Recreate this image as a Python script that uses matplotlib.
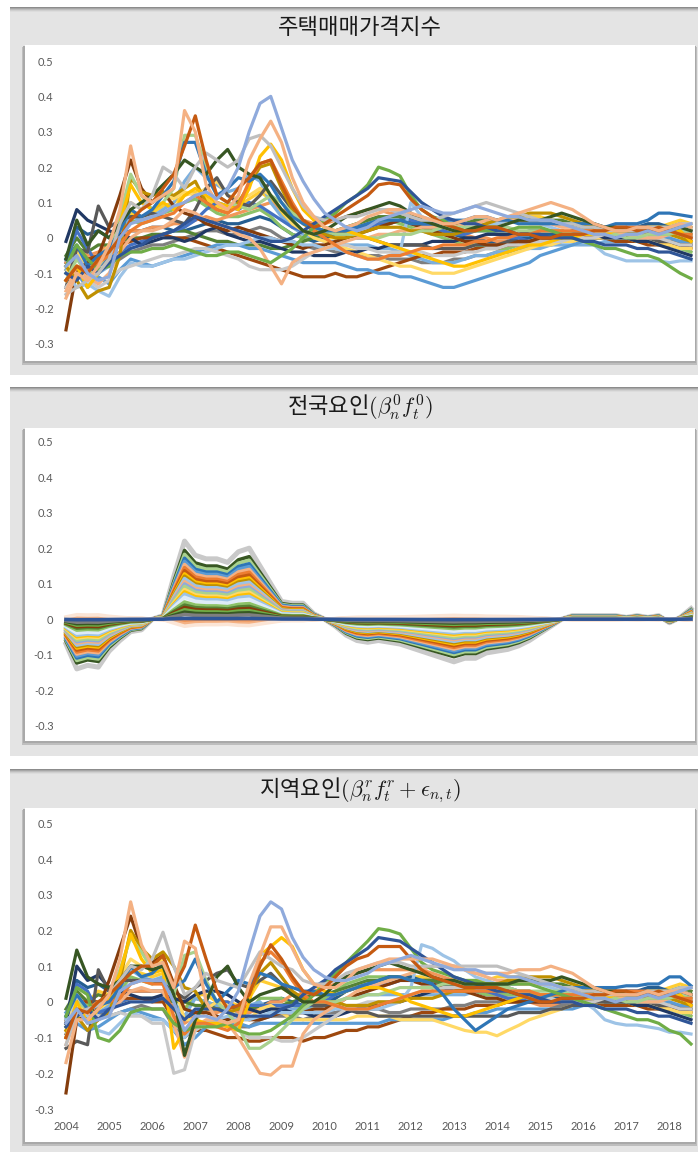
"""
Korean house-price index decomposition: total / national factor / regional factor.
Three stacked Excel-style panels, quarterly 2004Q1 .. 2018Q3.
"""
import numpy as np
import matplotlib
matplotlib.use("Agg")
import matplotlib.pyplot as plt
from matplotlib.patches import Rectangle

plt.rcParams["font.family"] = ["Noto Sans CJK KR", "DejaVu Sans"]
plt.rcParams["mathtext.fontset"] = "cm"

W, H = 698, 1152

years = 2004 + np.arange(59) / 4.0
year_ticks = list(range(2004, 2019))
y_ticks = [-0.3, -0.2, -0.1, 0, 0.1, 0.2, 0.3, 0.4, 0.5]

titles = ["주택매매가격지수",
          r"전국요인$(\beta^0_n f^0_t)$",
          r"지역요인$(\beta^r_n f^r_t + \epsilon_{n,t})$"]

# ---------------- panel 1: total index (one row per year) ----------------
tot_periwinkle = [-0.08, -0.05, -0.10, -0.12, -0.11, 0.00, 0.04, 0.05, 0.06, 0.07, 0.09, 0.10,
                  0.12, 0.13, 0.11, 0.14, 0.20, 0.30, 0.38, 0.40, 0.31, 0.22, 0.16, 0.11,
                  0.07, 0.05, 0.03, 0.02, 0.03, 0.05, 0.06, 0.07, 0.08, 0.09, 0.08, 0.07,
                  0.07, 0.08, 0.09, 0.08, 0.07, 0.06, 0.06, 0.05, 0.05, 0.05, 0.04, 0.03,
                  0.02, 0.01, 0.01, 0.00, 0.01, 0.01, 0.02, 0.01, 0.02, 0.03, 0.04]
tot_salmon = [-0.17, -0.10, -0.12, -0.08, -0.02, 0.08, 0.26, 0.12, 0.10, 0.12, 0.14, 0.36,
              0.30, 0.15, 0.10, 0.08, 0.12, 0.22, 0.28, 0.33, 0.27, 0.17, 0.10, 0.06,
              0.03, 0.02, 0.03, 0.04, 0.06, 0.07, 0.08, 0.08, 0.07, 0.06, 0.05, 0.04,
              0.04, 0.05, 0.06, 0.06, 0.05, 0.06, 0.07, 0.08, 0.09, 0.10, 0.09, 0.08,
              0.06, 0.04, 0.03, 0.02, 0.02, 0.03, 0.03, 0.02, 0.03, 0.04, 0.03]
tot_rust = [-0.12, -0.08, -0.10, -0.06, -0.04, 0.00, 0.05, 0.08, 0.10, 0.14, 0.18, 0.26,
            0.345, 0.22, 0.12, 0.10, 0.14, 0.17, 0.21, 0.22, 0.15, 0.09, 0.05, 0.03,
            0.04, 0.06, 0.08, 0.10, 0.12, 0.15, 0.155, 0.15, 0.11, 0.08, 0.06, 0.04,
            0.03, 0.02, 0.02, 0.03, 0.03, 0.02, 0.01, 0.01, 0.00, 0.00, 0.01, 0.01,
            0.01, 0.02, 0.02, 0.03, 0.03, 0.02, 0.02, 0.03, 0.02, 0.01, 0.00]
tot_brown = [-0.26, -0.09, -0.07, -0.05, 0.03, 0.12, 0.22, 0.14, 0.10, 0.13, 0.09, 0.07,
             0.06, 0.04, 0.03, 0.02, 0.03, 0.02, 0.01, 0.00, -0.01, -0.02, -0.03, -0.02,
             -0.02, -0.01, 0.00, 0.01, 0.02, 0.03, 0.04, 0.05, 0.04, 0.03, 0.02, 0.01,
             0.00, -0.01, -0.01, -0.02, -0.02, -0.02, -0.01, -0.01, 0.00, 0.00, 0.01, 0.00,
             0.00, 0.01, 0.01, 0.02, 0.02, 0.02, 0.03, 0.02, 0.02, 0.01, 0.00]
tot_darkgreen = [-0.06, 0.05, -0.02, 0.02, 0.00, 0.04, 0.08, 0.10, 0.12, 0.15, 0.18, 0.22,
                 0.20, 0.18, 0.22, 0.25, 0.20, 0.18, 0.17, 0.12, 0.08, 0.05, 0.02, 0.01,
                 0.02, 0.04, 0.06, 0.07, 0.08, 0.09, 0.10, 0.09, 0.07, 0.05, 0.04, 0.03,
                 0.02, 0.02, 0.03, 0.03, 0.03, 0.04, 0.05, 0.05, 0.05, 0.06, 0.07, 0.06,
                 0.05, 0.04, 0.03, 0.03, 0.02, 0.02, 0.03, 0.03, 0.02, 0.03, 0.02]
tot_green = [-0.08, -0.02, -0.06, -0.09, -0.08, -0.05, -0.04, -0.04, -0.03, -0.03, -0.02, -0.03,
             -0.04, -0.05, -0.05, -0.04, -0.04, -0.05, -0.06, -0.07, -0.05, -0.03, 0.00, 0.03,
             0.05, 0.07, 0.10, 0.12, 0.15, 0.20, 0.19, 0.175, 0.12, 0.08, 0.06, 0.05,
             0.03, 0.02, 0.02, 0.02, 0.02, 0.02, 0.03, 0.03, 0.03, 0.02, 0.01, 0.00,
             -0.01, -0.02, -0.03, -0.03, -0.04, -0.05, -0.05, -0.06, -0.08, -0.10, -0.115]
tot_blue = [-0.10, -0.12, -0.08, -0.10, -0.07, -0.05, -0.03, -0.02, 0.00, 0.01, 0.02, 0.04,
            0.06, 0.05, 0.04, 0.03, 0.02, 0.01, 0.00, -0.01, -0.01, 0.00, 0.02, 0.04,
            0.06, 0.08, 0.10, 0.12, 0.14, 0.17, 0.165, 0.16, 0.13, 0.10, 0.08, 0.06,
            0.05, 0.04, 0.04, 0.03, 0.02, 0.02, 0.01, 0.01, 0.01, 0.00, 0.00, 0.00,
            -0.01, -0.01, -0.02, -0.02, -0.02, -0.03, -0.03, -0.04, -0.04, -0.05, -0.06]
tot_lightgrey = [-0.16, -0.14, -0.12, -0.10, -0.06, 0.04, 0.10, 0.08, 0.12, 0.20, 0.18, 0.14,
                 0.20, 0.24, 0.22, 0.20, 0.22, 0.28, 0.29, 0.26, 0.20, 0.14, 0.09, 0.06,
                 0.05, 0.05, 0.06, 0.06, 0.07, 0.08, 0.08, 0.07, 0.06, 0.05, 0.05, 0.06,
                 0.07, 0.08, 0.09, 0.10, 0.09, 0.08, 0.07, 0.06, 0.05, 0.05, 0.04, 0.04,
                 0.03, 0.03, 0.02, 0.02, 0.02, 0.02, 0.03, 0.03, 0.03, 0.04, 0.04]
tot_palegrey = [-0.14, -0.10, -0.12, -0.14, -0.12, -0.09, -0.08, -0.07, -0.06, -0.05, -0.05, -0.04,
                -0.03, -0.03, -0.04, -0.05, -0.06, -0.08, -0.09, -0.09, -0.09, -0.08, -0.06, -0.04,
                -0.03, -0.02, -0.02, -0.03, -0.03, -0.04, -0.04, -0.04, -0.04, -0.04, -0.05, -0.05,
                -0.05, -0.04, -0.04, -0.03, -0.03, -0.02, -0.02, -0.02, -0.01, -0.01, -0.01, 0.00,
                0.00, 0.00, 0.01, 0.01, 0.01, 0.01, 0.00, 0.00, -0.01, -0.02, -0.02]
tot_peach = [-0.15, -0.08, -0.11, -0.13, -0.10, -0.04, 0.00, 0.02, 0.02, 0.03, 0.05, 0.08,
             0.07, 0.05, 0.04, 0.03, 0.01, 0.00, -0.03, -0.08, -0.13, -0.07, -0.05, -0.04,
             -0.03, -0.02, -0.01, 0.00, 0.00, 0.01, 0.01, 0.02, 0.02, 0.03, 0.03, 0.03,
             0.03, 0.04, 0.04, 0.05, 0.05, 0.05, 0.05, 0.04, 0.04, 0.04, 0.03, 0.03,
             0.02, 0.02, 0.01, 0.01, 0.01, 0.00, 0.00, 0.00, 0.01, 0.01, 0.00]
tot_gold = [-0.12, -0.08, -0.14, -0.10, -0.06, 0.04, 0.15, 0.10, 0.08, 0.10, 0.08, 0.12,
            0.14, 0.12, 0.10, 0.09, 0.08, 0.14, 0.23, 0.265, 0.22, 0.14, 0.08, 0.05,
            0.03, 0.02, 0.02, 0.01, 0.00, -0.01, -0.02, -0.03, -0.04, -0.05, -0.06, -0.07,
            -0.08, -0.08, -0.07, -0.06, -0.05, -0.04, -0.03, -0.02, -0.02, -0.01, 0.00, 0.00,
            0.01, 0.01, 0.01, 0.02, 0.02, 0.02, 0.03, 0.03, 0.03, 0.02, -0.01]
tot_navy = [-0.01, 0.08, 0.05, 0.035, 0.02, 0.01, 0.00, -0.02, -0.01, 0.00, 0.00, -0.01,
            0.00, 0.02, 0.03, 0.01, 0.00, -0.01, -0.01, -0.02, -0.03, -0.04, -0.04, -0.05,
            -0.05, -0.05, -0.04, -0.04, -0.03, -0.03, -0.02, -0.02, -0.02, -0.02, -0.01, -0.01,
            -0.01, 0.00, 0.00, 0.01, 0.01, 0.01, 0.01, 0.02, 0.02, 0.02, 0.02, 0.01,
            0.01, 0.01, 0.00, 0.00, 0.00, -0.01, -0.01, -0.02, -0.03, -0.04, -0.05]
tot_darkgrey = [-0.14, -0.03, -0.04, 0.09, 0.03, 0.05, 0.06, 0.06, 0.07, 0.06, 0.05, 0.04,
                0.08, 0.14, 0.17, 0.12, 0.10, 0.09, 0.12, 0.16, 0.12, 0.08, 0.05, 0.03,
                0.02, 0.01, 0.01, 0.00, 0.00, -0.01, -0.02, -0.02, -0.02, -0.02, -0.03, -0.03,
                -0.03, -0.03, -0.02, -0.02, -0.02, -0.01, -0.01, -0.01, 0.00, 0.00, 0.01, 0.01,
                0.01, 0.01, 0.01, 0.01, 0.00, 0.00, 0.00, -0.01, -0.01, -0.02, -0.02]
tot_darkgold = [-0.08, -0.12, -0.17, -0.15, -0.14, -0.05, 0.17, 0.13, 0.12, 0.13, 0.12, 0.14,
                0.16, 0.10, 0.08, 0.07, 0.10, 0.15, 0.20, 0.21, 0.14, 0.08, 0.04, 0.02,
                0.01, 0.00, 0.00, 0.01, 0.02, 0.03, 0.03, 0.03, 0.02, 0.02, 0.01, 0.01,
                0.01, 0.02, 0.03, 0.04, 0.05, 0.06, 0.06, 0.07, 0.07, 0.07, 0.06, 0.05,
                0.04, 0.03, 0.02, 0.02, 0.02, 0.02, 0.01, 0.01, 0.01, 0.00, -0.01]
tot_sky = [-0.10, -0.14, -0.13, -0.15, -0.165, -0.11, -0.07, -0.08, -0.08, -0.07, -0.06, -0.06,
           -0.05, -0.04, -0.03, -0.02, -0.02, -0.01, 0.00, 0.00, -0.01, -0.01, -0.02, -0.02,
           -0.03, -0.03, -0.04, -0.05, -0.06, -0.06, -0.05, -0.04, 0.10, 0.06, 0.05, 0.03,
           0.02, 0.02, 0.03, 0.04, 0.04, 0.05, 0.05, 0.05, 0.04, 0.03, 0.02, 0.01,
           0.00, -0.02, -0.045, -0.055, -0.065, -0.065, -0.065, -0.065, -0.07, -0.065, -0.065]
tot_midblue = [-0.06, -0.02, -0.08, -0.05, -0.03, 0.02, 0.08, 0.06, 0.08, 0.12, 0.16, 0.27,
               0.27, 0.18, 0.12, 0.14, 0.17, 0.16, 0.18, 0.15, 0.10, 0.06, 0.04, 0.03,
               0.02, 0.02, 0.02, 0.03, 0.04, 0.05, 0.05, 0.05, 0.04, 0.04, 0.04, 0.05,
               0.05, 0.05, 0.06, 0.06, 0.05, 0.05, 0.04, 0.04, 0.04, 0.04, 0.04, 0.04,
               0.04, 0.04, 0.03, 0.04, 0.04, 0.04, 0.05, 0.07, 0.07, 0.065, 0.06]
tot_lightblue = [-0.06, -0.10, -0.14, -0.11, -0.13, -0.09, -0.06, -0.07, -0.08, -0.07, -0.06, -0.05,
                 -0.04, -0.03, -0.02, -0.02, -0.02, -0.03, -0.03, -0.04, -0.05, -0.06, -0.07, -0.07,
                 -0.07, -0.07, -0.08, -0.09, -0.09, -0.10, -0.10, -0.11, -0.11, -0.12, -0.13, -0.14,
                 -0.14, -0.13, -0.12, -0.11, -0.10, -0.09, -0.08, -0.07, -0.05, -0.04, -0.03, -0.02,
                 -0.01, 0.00, 0.00, 0.00, 0.00, 0.01, 0.01, 0.00, 0.00, -0.01, -0.01]
tot_lightgreen = [-0.12, -0.06, -0.10, -0.08, -0.04, 0.06, 0.18, 0.12, 0.08, 0.10, 0.14, 0.29,
                  0.29, 0.20, 0.12, 0.10, 0.09, 0.08, 0.10, 0.12, 0.10, 0.07, 0.05, 0.03,
                  0.02, 0.01, 0.01, 0.01, 0.00, 0.00, 0.01, 0.01, 0.01, 0.02, 0.02, 0.03,
                  0.03, 0.03, 0.03, 0.03, 0.03, 0.03, 0.02, 0.02, 0.02, 0.02, 0.02, 0.01,
                  0.01, 0.01, 0.01, 0.01, 0.00, 0.00, 0.01, 0.01, 0.01, 0.02, 0.01]
tot_yellow = [-0.10, -0.04, -0.08, -0.06, -0.02, 0.06, 0.10, 0.08, 0.10, 0.12, 0.11, 0.13,
              0.12, 0.14, 0.16, 0.12, 0.11, 0.12, 0.14, 0.12, 0.08, 0.04, 0.02, 0.00,
              -0.01, -0.02, -0.03, -0.04, -0.05, -0.06, -0.07, -0.08, -0.08, -0.09, -0.10, -0.10,
              -0.10, -0.09, -0.08, -0.07, -0.06, -0.05, -0.04, -0.03, -0.02, -0.02, -0.01, -0.01,
              0.00, 0.00, 0.00, 0.00, 0.00, -0.01, -0.01, -0.02, -0.02, -0.03, -0.03]
tot_orange = [-0.12, -0.08, -0.09, -0.07, -0.05, -0.02, 0.02, 0.04, 0.05, 0.06, 0.07, 0.10,
              0.12, 0.10, 0.08, 0.07, 0.09, 0.16, 0.21, 0.22, 0.16, 0.10, 0.05, 0.02,
              0.00, -0.02, -0.04, -0.05, -0.06, -0.06, -0.05, -0.05, -0.04, -0.03, -0.03, -0.02,
              -0.02, -0.02, -0.01, -0.01, 0.00, 0.00, 0.01, 0.01, 0.02, 0.02, 0.02, 0.02,
              0.02, 0.02, 0.03, 0.03, 0.03, 0.03, 0.03, 0.02, 0.02, 0.01, 0.01]
tot_chestnut = [-0.08, -0.04, -0.06, -0.05, -0.04, -0.02, -0.01, 0.00, 0.00, 0.01, 0.00, 0.00,
                -0.01, -0.02, -0.03, -0.04, -0.05, -0.06, -0.07, -0.08, -0.09, -0.10, -0.11, -0.11,
                -0.11, -0.10, -0.11, -0.11, -0.10, -0.09, -0.08, -0.07, -0.06, -0.05, -0.05, -0.04,
                -0.04, -0.04, -0.03, -0.03, -0.03, -0.02, -0.02, -0.01, -0.01, 0.00, 0.00, 0.00,
                0.00, 0.00, 0.00, -0.01, -0.01, -0.01, -0.02, -0.02, -0.02, -0.02, -0.03]
tot_royal = [-0.06, 0.02, -0.03, -0.08, -0.06, -0.04, -0.02, -0.01, 0.00, 0.01, 0.02, 0.03,
             0.05, 0.08, 0.10, 0.09, 0.08, 0.10, 0.09, 0.07, 0.05, 0.03, 0.02, 0.01,
             0.01, 0.02, 0.02, 0.03, 0.03, 0.04, 0.04, 0.05, 0.05, 0.04, 0.03, 0.02,
             0.01, 0.01, 0.02, 0.02, 0.01, 0.00, 0.00, -0.01, -0.01, 0.00, 0.00, 0.01,
             0.01, 0.02, 0.02, 0.02, 0.03, 0.03, 0.02, 0.02, 0.01, 0.01, 0.00]
tot_olive = [-0.05, 0.00, -0.04, -0.02, -0.02, -0.01, 0.00, 0.00, 0.01, 0.01, 0.02, 0.02,
             0.01, 0.00, -0.01, -0.01, -0.02, -0.02, -0.02, -0.03, -0.03, -0.02, -0.01, 0.00,
             0.01, 0.02, 0.03, 0.04, 0.05, 0.06, 0.06, 0.06, 0.05, 0.04, 0.04, 0.04,
             0.04, 0.04, 0.05, 0.05, 0.05, 0.05, 0.05, 0.05, 0.05, 0.05, 0.05, 0.04,
             0.03, 0.03, 0.02, 0.02, 0.01, 0.01, 0.01, 0.02, 0.03, 0.04, 0.03]
tot_cornflower = [-0.09, -0.05, -0.12, -0.10, -0.08, 0.00, 0.06, 0.05, 0.06, 0.08, 0.10, 0.16,
                  0.20, 0.17, 0.15, 0.13, 0.14, 0.18, 0.16, 0.10, 0.06, 0.03, 0.01, 0.00,
                  -0.01, -0.01, -0.02, -0.02, -0.02, -0.03, -0.03, -0.04, -0.05, -0.06, -0.07, -0.07,
                  -0.07, -0.06, -0.05, -0.05, -0.04, -0.04, -0.03, -0.03, -0.03, -0.02, -0.02, -0.02,
                  -0.02, -0.02, -0.01, -0.01, -0.01, 0.00, 0.00, 0.00, 0.01, 0.02, 0.02]
tot_tangerine = [-0.07, -0.03, -0.05, -0.04, -0.02, 0.00, 0.02, 0.02, 0.03, 0.03, 0.04, 0.04,
                 0.05, 0.06, 0.05, 0.06, 0.07, 0.08, 0.09, 0.10, 0.08, 0.07, 0.05, 0.04,
                 0.04, 0.05, 0.06, 0.07, 0.08, 0.08, 0.07, 0.07, 0.06, 0.05, 0.04, 0.03,
                 0.02, 0.01, 0.00, 0.00, -0.01, -0.01, -0.02, -0.02, -0.02, -0.02, -0.01, -0.01,
                 0.00, 0.00, 0.00, 0.01, 0.01, 0.01, 0.02, 0.02, 0.02, 0.02, 0.02]
tot_amber = [-0.09, -0.03, -0.07, -0.05, -0.03, 0.03, 0.07, 0.06, 0.07, 0.09, 0.10, 0.12,
             0.13, 0.11, 0.09, 0.08, 0.09, 0.11, 0.13, 0.11, 0.07, 0.04, 0.02, 0.01,
             0.00, 0.00, 0.01, 0.02, 0.03, 0.04, 0.04, 0.05, 0.04, 0.03, 0.02, 0.02,
             0.01, 0.01, 0.02, 0.03, 0.04, 0.05, 0.06, 0.06, 0.06, 0.05, 0.04, 0.03,
             0.02, 0.02, 0.01, 0.01, 0.01, 0.02, 0.02, 0.03, 0.04, 0.05, 0.04]
tot_slate = [-0.12, -0.08, -0.10, -0.09, -0.08, -0.06, -0.04, -0.03, -0.02, -0.02, -0.01, 0.00,
             0.01, 0.02, 0.02, 0.01, 0.01, 0.02, 0.03, 0.02, 0.00, -0.01, -0.02, -0.03,
             -0.03, -0.04, -0.04, -0.05, -0.05, -0.05, -0.06, -0.06, -0.06, -0.07, -0.07, -0.07,
             -0.06, -0.06, -0.05, -0.05, -0.04, -0.04, -0.03, -0.03, -0.02, -0.02, -0.01, -0.01,
             0.00, 0.00, 0.00, 0.01, 0.01, 0.01, 0.00, 0.00, -0.01, -0.01, -0.02]
tot_steel = [-0.07, 0.03, 0.01, 0.02, 0.00, 0.01, 0.02, 0.02, 0.03, 0.03, 0.02, 0.02,
             0.03, 0.04, 0.05, 0.04, 0.04, 0.05, 0.06, 0.05, 0.03, 0.01, 0.00, -0.01,
             0.00, 0.01, 0.02, 0.03, 0.04, 0.05, 0.06, 0.06, 0.05, 0.04, 0.03, 0.02,
             0.01, 0.00, 0.00, -0.01, -0.01, -0.01, 0.00, 0.00, 0.01, 0.01, 0.01, 0.02,
             0.02, 0.03, 0.03, 0.03, 0.03, 0.03, 0.04, 0.04, 0.03, 0.02, 0.01]
tot_lime = [-0.10, -0.04, -0.08, -0.07, -0.06, 0.00, 0.05, 0.04, 0.05, 0.07, 0.08, 0.10,
            0.11, 0.09, 0.07, 0.06, 0.06, 0.07, 0.08, 0.06, 0.03, 0.01, 0.00, 0.00,
            0.01, 0.02, 0.03, 0.04, 0.05, 0.05, 0.05, 0.04, 0.03, 0.02, 0.01, 0.00,
            -0.01, -0.02, -0.02, -0.03, -0.03, -0.03, -0.02, -0.02, -0.01, -0.01, 0.00, 0.00,
            0.00, 0.00, 0.00, 0.00, 0.00, -0.01, -0.01, -0.02, -0.02, -0.03, -0.04]

# ---------------- panel 2: national factor f_t and loadings beta_n ----------------
nat_factor = [-0.07, -0.14, -0.13, -0.135, -0.09, -0.06, -0.035, -0.03, 0.00, 0.01, 0.12, 0.22,
              0.18, 0.17, 0.17, 0.16, 0.19, 0.20, 0.15, 0.10, 0.05, 0.045, 0.045, 0.015,
              0.00, -0.02, -0.045, -0.06, -0.065, -0.06, -0.065, -0.07, -0.08, -0.09, -0.10, -0.11,
              -0.12, -0.11, -0.11, -0.095, -0.09, -0.085, -0.075, -0.06, -0.04, -0.02, 0.00, 0.01,
              0.01, 0.01, 0.01, 0.01, 0.005, 0.01, 0.005, 0.01, -0.01, 0.005, 0.03]
nat_betas = [1.00, 0.88, 0.83, 0.78, 0.74, 0.70, 0.66, 0.62, 0.58, 0.55, 0.52, 0.48,
             0.45, 0.42, 0.38, 0.35, 0.32, 0.28, 0.22, 0.18, 0.15, 0.12, 0.09, 0.06,
             -0.03, -0.06, -0.09, 0.01]
nat_colors = ["#C9C9C9", "#385723", "#A9D18E", "#2E75B6", "#5B9BD5", "#F4B183",
              "#ED7D31", "#C55A11", "#FFC000", "#BF9000", "#9DC3E6", "#F4B183",
              "#8FAADC", "#A9D18E", "#FFD966", "#FFC000", "#9DC3E6", "#DEEBF7",
              "#8CC168", "#548235", "#843C0C", "#70AD47", "#385723", "#7F7F7F",
              "#F1975A", "#F4B183", "#FBE5D6", "#2F5597"]

# ---------------- panel 3: regional factor + idiosyncratic ----------------
reg_periwinkle = [-0.06, -0.02, -0.06, -0.05, -0.04, 0.03, 0.05, 0.06, 0.06, 0.06, 0.00, -0.08,
                  -0.04, -0.04, -0.05, -0.02, 0.03, 0.14, 0.24, 0.28, 0.26, 0.18, 0.125, 0.09,
                  0.07, 0.06, 0.06, 0.07, 0.08, 0.10, 0.11, 0.12, 0.13, 0.12, 0.11, 0.10,
                  0.09, 0.09, 0.09, 0.08, 0.08, 0.07, 0.07, 0.06, 0.05, 0.05, 0.04, 0.03,
                  0.02, 0.01, 0.01, 0.00, 0.01, 0.01, 0.02, 0.01, 0.02, 0.03, 0.04]
reg_salmon = [-0.17, -0.05, -0.05, -0.02, 0.02, 0.12, 0.28, 0.16, 0.10, 0.11, 0.04, 0.17,
              0.15, 0.00, -0.05, -0.06, -0.05, 0.05, 0.13, 0.21, 0.21, 0.15, 0.09, 0.05,
              0.04, 0.04, 0.06, 0.09, 0.10, 0.11, 0.12, 0.12, 0.12, 0.12, 0.12, 0.11,
              0.10, 0.09, 0.08, 0.08, 0.08, 0.08, 0.09, 0.09, 0.09, 0.10, 0.09, 0.08,
              0.06, 0.04, 0.03, 0.02, 0.02, 0.02, 0.03, 0.02, 0.03, 0.03, 0.02]
reg_rust = [-0.10, -0.02, -0.03, 0.00, 0.02, 0.05, 0.08, 0.10, 0.10, 0.13, 0.04, 0.10,
            0.215, 0.12, 0.03, -0.02, -0.01, 0.02, 0.10, 0.16, 0.12, 0.07, 0.03, 0.02,
            0.04, 0.07, 0.10, 0.12, 0.13, 0.155, 0.155, 0.155, 0.12, 0.09, 0.07, 0.06,
            0.05, 0.04, 0.04, 0.04, 0.04, 0.03, 0.02, 0.01, 0.00, 0.00, 0.01, 0.01,
            0.01, 0.02, 0.02, 0.03, 0.03, 0.02, 0.02, 0.03, 0.02, 0.01, 0.00]
reg_brown = [-0.255, -0.05, -0.04, -0.02, 0.06, 0.15, 0.24, 0.15, 0.11, 0.13, 0.05, -0.02,
             -0.03, -0.03, -0.04, -0.05, -0.04, -0.05, -0.05, -0.04, -0.03, -0.03, -0.03, -0.02,
             -0.02, -0.01, 0.01, 0.02, 0.03, 0.04, 0.05, 0.06, 0.06, 0.05, 0.05, 0.04,
             0.04, 0.03, 0.02, 0.01, 0.01, 0.00, 0.00, 0.00, 0.00, 0.00, 0.01, 0.00,
             0.00, 0.01, 0.01, 0.02, 0.02, 0.02, 0.03, 0.02, 0.02, 0.01, 0.00]
reg_darkgreen = [0.01, 0.145, 0.07, 0.05, 0.04, 0.06, 0.10, 0.10, 0.09, 0.10, 0.02, -0.15,
                 -0.05, 0.00, 0.07, 0.10, 0.04, 0.00, 0.02, 0.03, 0.04, 0.02, 0.00, 0.00,
                 0.02, 0.05, 0.07, 0.08, 0.09, 0.10, 0.11, 0.10, 0.09, 0.08, 0.07, 0.06,
                 0.06, 0.05, 0.05, 0.05, 0.05, 0.05, 0.06, 0.06, 0.06, 0.06, 0.07, 0.06,
                 0.05, 0.04, 0.03, 0.03, 0.02, 0.02, 0.03, 0.03, 0.02, 0.03, 0.02]
reg_green = [-0.04, 0.04, 0.02, -0.10, -0.11, -0.08, -0.03, -0.02, -0.02, -0.02, -0.06, -0.08,
             -0.07, -0.07, -0.07, -0.06, -0.08, -0.09, -0.09, -0.08, -0.06, -0.04, -0.01, 0.02,
             0.05, 0.08, 0.11, 0.14, 0.17, 0.205, 0.20, 0.19, 0.15, 0.11, 0.09, 0.08,
             0.07, 0.06, 0.06, 0.05, 0.05, 0.05, 0.05, 0.05, 0.04, 0.03, 0.02, 0.01,
             0.00, -0.01, -0.02, -0.03, -0.04, -0.05, -0.05, -0.06, -0.08, -0.09, -0.118]
reg_blue = [-0.07, -0.04, -0.02, -0.05, -0.02, -0.01, 0.00, 0.00, 0.00, 0.01, -0.02, -0.05,
            -0.02, -0.02, -0.02, -0.03, -0.04, -0.04, -0.04, -0.04, -0.02, -0.01, 0.02, 0.04,
            0.06, 0.09, 0.11, 0.13, 0.15, 0.18, 0.175, 0.17, 0.15, 0.13, 0.11, 0.09,
            0.07, 0.06, 0.05, 0.04, 0.03, 0.03, 0.02, 0.02, 0.01, 0.00, 0.00, 0.00,
            -0.01, -0.01, -0.02, -0.02, -0.02, -0.03, -0.03, -0.04, -0.04, -0.05, -0.06]
reg_lightgrey = [-0.12, -0.03, -0.02, -0.01, 0.02, 0.06, 0.10, 0.09, 0.12, 0.195, 0.10, 0.02,
                 0.04, 0.08, 0.06, 0.05, 0.04, 0.09, 0.14, 0.12, 0.10, 0.09, 0.06, 0.05,
                 0.05, 0.06, 0.08, 0.09, 0.10, 0.11, 0.11, 0.11, 0.10, 0.10, 0.10, 0.10,
                 0.10, 0.10, 0.10, 0.10, 0.10, 0.09, 0.08, 0.07, 0.06, 0.05, 0.04, 0.04,
                 0.03, 0.03, 0.02, 0.02, 0.02, 0.02, 0.03, 0.03, 0.03, 0.04, 0.04]
reg_palegrey = [-0.10, 0.02, -0.02, -0.04, -0.04, -0.03, -0.04, -0.04, -0.06, -0.06, -0.20, -0.19,
                -0.08, -0.06, -0.06, -0.07, -0.08, -0.10, -0.10, -0.10, -0.11, -0.11, -0.10, -0.08,
                -0.06, -0.04, -0.02, -0.01, 0.00, 0.00, 0.00, 0.01, 0.02, 0.03, 0.03, 0.04,
                0.04, 0.04, 0.04, 0.04, 0.04, 0.04, 0.03, 0.03, 0.02, 0.01, 0.00, 0.00,
                0.00, 0.00, 0.01, 0.01, 0.01, 0.01, 0.00, 0.00, -0.01, -0.02, -0.02]
reg_peach = [-0.12, -0.04, -0.03, -0.05, -0.03, 0.00, 0.03, 0.04, 0.03, 0.03, -0.06, -0.155,
             -0.07, -0.05, -0.05, -0.06, -0.10, -0.15, -0.20, -0.205, -0.18, -0.18, -0.09, -0.05,
             -0.03, -0.01, 0.01, 0.03, 0.04, 0.05, 0.06, 0.07, 0.08, 0.09, 0.10, 0.10,
             0.10, 0.09, 0.08, 0.07, 0.06, 0.06, 0.05, 0.05, 0.05, 0.05, 0.04, 0.03,
             0.02, 0.02, 0.01, 0.01, 0.01, 0.00, 0.00, 0.00, 0.01, 0.01, 0.00]
reg_gold = [-0.10, 0.00, -0.06, -0.02, 0.01, 0.08, 0.19, 0.12, 0.08, 0.09, -0.13, -0.08,
            -0.05, -0.06, -0.06, -0.07, -0.08, 0.00, 0.13, 0.155, 0.18, 0.155, 0.09, 0.05,
            0.03, 0.02, 0.03, 0.04, 0.04, 0.04, 0.03, 0.02, 0.00, -0.01, -0.02, -0.03,
            -0.04, -0.04, -0.03, -0.02, -0.01, 0.00, 0.01, 0.02, 0.02, 0.02, 0.02, 0.01,
            0.01, 0.01, 0.01, 0.02, 0.02, 0.02, 0.03, 0.03, 0.03, 0.02, -0.01]
reg_navy = [-0.06, 0.10, 0.06, 0.075, 0.04, 0.03, 0.02, 0.01, 0.01, 0.02, 0.01, 0.00,
            0.02, 0.03, 0.03, 0.02, 0.00, -0.02, -0.03, -0.02, -0.02, -0.03, -0.03, -0.04,
            -0.04, -0.04, -0.03, -0.02, -0.01, -0.01, 0.00, 0.00, 0.01, 0.02, 0.03, 0.04,
            0.05, 0.05, 0.05, 0.05, 0.05, 0.04, 0.03, 0.03, 0.02, 0.02, 0.02, 0.01,
            0.01, 0.01, 0.00, 0.00, 0.00, -0.01, -0.01, -0.02, -0.03, -0.04, -0.05]
reg_darkgrey = [-0.13, -0.11, -0.12, 0.09, 0.03, 0.06, 0.06, 0.06, 0.06, 0.05, 0.03, 0.01,
                0.04, 0.06, 0.08, 0.09, 0.05, 0.04, 0.06, 0.08, 0.05, 0.02, 0.00, -0.01,
                -0.01, -0.01, -0.02, -0.03, -0.03, -0.04, -0.04, -0.04, -0.04, -0.04, -0.04, -0.04,
                -0.04, -0.04, -0.04, -0.04, -0.04, -0.04, -0.03, -0.03, -0.03, -0.02, -0.02, -0.01,
                -0.01, 0.00, 0.00, 0.00, 0.00, 0.00, 0.00, -0.01, -0.01, -0.02, -0.02]
reg_darkgold = [-0.08, -0.04, -0.08, -0.05, -0.03, 0.06, 0.20, 0.15, 0.12, 0.14, 0.10, 0.04,
                0.03, -0.02, -0.02, -0.03, -0.02, 0.02, 0.08, 0.11, 0.07, 0.03, 0.01, 0.00,
                0.00, 0.00, -0.01, -0.01, -0.01, 0.00, 0.00, 0.00, 0.01, 0.01, 0.01, 0.02,
                0.03, 0.03, 0.04, 0.05, 0.05, 0.06, 0.06, 0.07, 0.07, 0.07, 0.06, 0.05,
                0.04, 0.03, 0.02, 0.02, 0.02, 0.02, 0.01, 0.01, 0.01, 0.00, -0.01]
reg_sky = [-0.05, -0.03, -0.04, -0.08, -0.09, -0.06, -0.03, -0.04, -0.05, -0.05, -0.08, -0.10,
           -0.06, -0.06, -0.05, -0.04, -0.05, -0.05, -0.04, -0.03, -0.03, -0.03, -0.03, -0.03,
           -0.03, -0.02, -0.02, -0.02, -0.02, -0.02, -0.01, 0.00, 0.04, 0.16, 0.15, 0.13,
           0.115, 0.09, 0.07, 0.06, 0.05, 0.05, 0.05, 0.05, 0.05, 0.04, 0.03, 0.02,
           0.00, -0.02, -0.05, -0.06, -0.065, -0.065, -0.07, -0.075, -0.085, -0.085, -0.09]
reg_midblue = [-0.04, 0.02, -0.02, -0.01, 0.00, 0.04, 0.10, 0.07, 0.08, 0.11, 0.04, 0.06,
               0.12, 0.05, 0.00, 0.03, 0.06, 0.05, 0.08, 0.07, 0.05, 0.04, 0.03, 0.03,
               0.02, 0.02, 0.03, 0.04, 0.05, 0.06, 0.07, 0.07, 0.06, 0.06, 0.05, 0.02,
               -0.02, -0.05, -0.08, -0.06, -0.04, -0.02, -0.01, 0.00, 0.01, 0.02, 0.03, 0.04,
               0.04, 0.04, 0.04, 0.04, 0.045, 0.045, 0.05, 0.05, 0.07, 0.07, 0.045]
reg_lightblue = [-0.03, -0.06, -0.08, -0.07, -0.05, -0.03, -0.02, -0.03, -0.04, -0.05, -0.08, -0.12,
                 -0.10, -0.07, -0.06, -0.06, -0.06, -0.07, -0.06, -0.06, -0.06, -0.06, -0.06, -0.06,
                 -0.06, -0.06, -0.06, -0.06, -0.06, -0.06, -0.05, -0.05, -0.05, -0.05, -0.05, -0.05,
                 -0.04, -0.04, -0.03, -0.03, -0.02, -0.02, -0.02, -0.02, -0.02, -0.02, -0.02, -0.02,
                 -0.01, 0.00, 0.00, 0.00, 0.00, 0.01, 0.01, 0.00, 0.00, -0.01, -0.01]
reg_lightgreen = [-0.10, 0.00, -0.02, 0.00, 0.02, 0.09, 0.18, 0.14, 0.09, 0.10, 0.02, 0.13,
                  0.14, 0.06, 0.00, -0.03, -0.07, -0.13, -0.13, -0.11, -0.08, -0.05, -0.02, 0.00,
                  0.00, 0.00, 0.01, 0.01, 0.02, 0.02, 0.03, 0.04, 0.04, 0.04, 0.04, 0.05,
                  0.05, 0.05, 0.05, 0.04, 0.04, 0.04, 0.03, 0.03, 0.03, 0.03, 0.03, 0.02,
                  0.01, 0.01, 0.01, 0.01, 0.00, 0.00, 0.01, 0.01, 0.01, 0.02, 0.01]
reg_yellow = [-0.08, 0.02, -0.04, -0.02, 0.00, 0.07, 0.12, 0.10, 0.10, 0.12, 0.05, -0.05,
              -0.05, -0.02, 0.00, -0.01, -0.05, -0.05, -0.02, -0.01, -0.03, -0.05, -0.05, -0.05,
              -0.05, -0.05, -0.05, -0.04, -0.04, -0.04, -0.04, -0.05, -0.05, -0.05, -0.05, -0.06,
              -0.07, -0.08, -0.085, -0.085, -0.095, -0.08, -0.066, -0.05, -0.04, -0.03, -0.02, -0.01,
              0.00, 0.00, 0.00, 0.00, 0.00, -0.01, -0.01, -0.02, -0.02, -0.03, -0.03]
reg_orange = [-0.10, -0.03, -0.02, 0.00, 0.00, 0.01, 0.05, 0.06, 0.05, 0.05, -0.04, -0.09,
              -0.06, -0.06, -0.07, -0.08, -0.06, 0.03, 0.11, 0.14, 0.11, 0.06, 0.02, 0.00,
              0.00, -0.01, -0.02, -0.02, -0.02, -0.01, 0.00, 0.01, 0.02, 0.03, 0.03, 0.03,
              0.03, 0.03, 0.03, 0.03, 0.03, 0.03, 0.03, 0.03, 0.02, 0.02, 0.02, 0.02,
              0.02, 0.02, 0.03, 0.03, 0.03, 0.03, 0.03, 0.02, 0.02, 0.01, 0.01]
reg_chestnut = [-0.06, 0.00, 0.00, 0.00, 0.00, 0.01, 0.01, 0.01, 0.00, 0.00, -0.05, -0.09,
                -0.08, -0.08, -0.09, -0.10, -0.10, -0.11, -0.11, -0.10, -0.10, -0.10, -0.11, -0.10,
                -0.10, -0.09, -0.08, -0.08, -0.07, -0.07, -0.06, -0.05, -0.04, -0.03, -0.03, -0.02,
                -0.02, -0.02, -0.01, -0.01, -0.01, 0.00, 0.00, 0.00, 0.00, 0.00, 0.00, 0.00,
                0.00, 0.00, -0.01, -0.01, -0.01, -0.01, -0.02, -0.02, -0.02, -0.02, -0.03]
reg_royal = [-0.04, 0.05, 0.03, -0.03, -0.02, 0.00, 0.01, 0.01, 0.01, 0.01, -0.04, -0.08,
             -0.05, -0.02, 0.00, 0.00, -0.02, -0.01, -0.01, -0.01, -0.01, -0.01, -0.01, -0.01,
             0.00, 0.02, 0.03, 0.04, 0.05, 0.05, 0.05, 0.06, 0.06, 0.06, 0.05, 0.04,
             0.03, 0.03, 0.03, 0.03, 0.02, 0.01, 0.01, 0.00, 0.00, 0.00, 0.00, 0.01,
             0.01, 0.02, 0.02, 0.02, 0.03, 0.03, 0.02, 0.02, 0.01, 0.01, 0.00]
reg_olive = [-0.02, 0.03, 0.00, 0.02, 0.01, 0.00, 0.01, 0.01, 0.01, 0.01, 0.00, 0.00,
             -0.01, -0.01, -0.02, -0.02, -0.02, -0.02, -0.01, -0.01, -0.01, 0.00, 0.01, 0.02,
             0.02, 0.03, 0.04, 0.05, 0.06, 0.06, 0.07, 0.07, 0.06, 0.06, 0.06, 0.05,
             0.05, 0.05, 0.05, 0.05, 0.05, 0.05, 0.05, 0.05, 0.05, 0.05, 0.05, 0.04,
             0.03, 0.03, 0.02, 0.02, 0.01, 0.01, 0.01, 0.02, 0.03, 0.04, 0.03]
reg_cornflower = [-0.06, 0.02, -0.04, -0.03, -0.01, 0.04, 0.09, 0.07, 0.06, 0.07, 0.00, -0.04,
                  0.01, 0.00, -0.01, -0.02, -0.04, -0.01, 0.00, -0.03, -0.03, -0.02, -0.02, -0.02,
                  -0.01, 0.00, 0.01, 0.02, 0.02, 0.02, 0.02, 0.02, 0.02, 0.02, 0.02, 0.02,
                  0.02, 0.02, 0.03, 0.03, 0.03, 0.03, 0.03, 0.02, 0.01, 0.01, 0.00, 0.00,
                  -0.01, -0.01, -0.01, -0.01, -0.01, 0.00, 0.00, 0.00, 0.01, 0.02, 0.02]
reg_tangerine = [-0.05, 0.01, 0.00, 0.00, 0.01, 0.02, 0.03, 0.03, 0.03, 0.03, -0.02, -0.06,
                 -0.04, -0.03, -0.03, -0.02, -0.03, -0.03, -0.02, 0.00, 0.00, 0.02, 0.02, 0.03,
                 0.04, 0.05, 0.07, 0.08, 0.09, 0.09, 0.09, 0.09, 0.09, 0.09, 0.08, 0.07,
                 0.06, 0.05, 0.04, 0.03, 0.02, 0.01, 0.00, 0.00, -0.01, -0.01, 0.00, 0.00,
                 0.00, 0.00, 0.00, 0.01, 0.01, 0.01, 0.02, 0.02, 0.02, 0.02, 0.02]
reg_amber = [-0.06, 0.03, 0.00, 0.03, 0.02, 0.07, 0.09, 0.08, 0.07, 0.08, 0.02, -0.02,
             0.02, 0.02, 0.00, 0.00, -0.01, 0.01, 0.06, 0.05, 0.04, 0.02, 0.00, 0.00,
             0.00, 0.01, 0.03, 0.04, 0.05, 0.06, 0.06, 0.07, 0.07, 0.07, 0.06, 0.06,
             0.06, 0.05, 0.06, 0.06, 0.07, 0.07, 0.07, 0.07, 0.06, 0.05, 0.04, 0.03,
             0.02, 0.02, 0.01, 0.01, 0.01, 0.02, 0.02, 0.03, 0.04, 0.05, 0.04]
reg_slate = [-0.09, -0.02, -0.04, -0.03, -0.04, -0.03, -0.02, -0.01, -0.02, -0.02, -0.07, -0.10,
             -0.07, -0.06, -0.06, -0.06, -0.07, -0.07, -0.05, -0.04, -0.04, -0.04, -0.05, -0.04,
             -0.03, -0.03, -0.02, -0.02, -0.02, -0.02, -0.03, -0.03, -0.02, -0.02, -0.02, -0.02,
             -0.01, -0.01, 0.00, 0.00, 0.00, 0.00, 0.00, 0.00, 0.00, -0.01, -0.01, -0.01,
             0.00, 0.00, 0.00, 0.01, 0.01, 0.01, 0.00, 0.00, -0.01, -0.01, -0.02]
reg_steel = [-0.05, 0.06, 0.04, 0.05, 0.03, 0.03, 0.03, 0.03, 0.03, 0.03, -0.02, -0.05,
             -0.03, -0.02, -0.01, -0.02, -0.03, -0.03, -0.01, 0.00, 0.01, 0.00, -0.01, -0.01,
             0.00, 0.01, 0.03, 0.04, 0.05, 0.06, 0.07, 0.07, 0.07, 0.06, 0.06, 0.05,
             0.04, 0.03, 0.03, 0.02, 0.02, 0.02, 0.02, 0.01, 0.01, 0.01, 0.01, 0.02,
             0.02, 0.03, 0.03, 0.03, 0.03, 0.03, 0.04, 0.04, 0.03, 0.02, 0.01]
reg_lime = [-0.07, 0.03, -0.01, 0.00, -0.01, 0.03, 0.07, 0.06, 0.05, 0.07, 0.02, -0.02,
            0.01, 0.00, -0.01, -0.02, -0.03, -0.03, 0.01, 0.01, 0.01, -0.01, -0.02, -0.01,
            0.01, 0.03, 0.05, 0.06, 0.07, 0.07, 0.07, 0.07, 0.06, 0.06, 0.05, 0.05,
            0.04, 0.03, 0.03, 0.02, 0.02, 0.02, 0.02, 0.01, 0.01, 0.00, 0.00, 0.00,
            0.00, 0.00, 0.00, 0.00, 0.00, -0.01, -0.01, -0.02, -0.02, -0.03, -0.04]

# drawing order (first = underneath), same colour for the same region in panels 1 and 3
series_colors = ["#FFCD33", "#7F7F7F", "#255E91", "#8CC168",
                 "#F1975A", "#7CAFDD", "#548235", "#4472C4", "#9E480E", "#5B9BD5",
                 "#FFD966", "#203864", "#595959", "#843C0C", "#9DC3E6", "#C9C9C9",
                 "#F4B183", "#BF9000", "#A9D18E", "#FFC000", "#ED7D31", "#2E75B6",
                 "#70AD47", "#2F5597", "#375623", "#BFBFBF", "#C55A11", "#F4B183", "#8FAADC"]
total_series = [tot_amber, tot_slate, tot_steel, tot_lime,
                tot_tangerine, tot_cornflower, tot_olive, tot_royal, tot_chestnut, tot_lightblue,
                tot_yellow, tot_navy, tot_darkgrey, tot_brown, tot_sky, tot_palegrey,
                tot_peach, tot_darkgold, tot_lightgreen, tot_gold, tot_orange, tot_midblue,
                tot_green, tot_blue, tot_darkgreen, tot_lightgrey, tot_rust, tot_salmon, tot_periwinkle]
regional_series = [reg_amber, reg_slate, reg_steel, reg_lime,
                   reg_tangerine, reg_cornflower, reg_olive, reg_royal, reg_chestnut, reg_lightblue,
                   reg_yellow, reg_navy, reg_darkgrey, reg_brown, reg_sky, reg_palegrey,
                   reg_peach, reg_darkgold, reg_lightgreen, reg_gold, reg_orange, reg_midblue,
                   reg_green, reg_blue, reg_darkgreen, reg_lightgrey, reg_rust, reg_salmon, reg_periwinkle]

for s in total_series + regional_series + [nat_factor]:
    assert len(s) == len(years), len(s)


# ---------------- layout (pixel boxes of the Excel chart frames) ----------------
frames = [  # outer top, outer bottom, inner top, inner bottom, title y
    (7, 375, 45, 361, 27),
    (387, 756, 428, 741, 408),
    (769, 1152, 808, 1142, 790),
]
plot_y = [(61, 344), (441.7, 725.7), (823.3, 1109)]  # pixel rows of y=0.5 and y=-0.3
plot_x = (66, 691)                                     # pixel cols of 2004Q1 and 2018Q3

fig = plt.figure(figsize=(W / 100, H / 100), dpi=100)
fig.patch.set_facecolor("white")

bg = fig.add_axes([0, 0, 1, 1], zorder=0)
bg.set_xlim(0, W)
bg.set_ylim(H, 0)
bg.axis("off")

for (ot, ob, it, ib, ty), title in zip(frames, titles):
    bg.add_patch(Rectangle((10, ot), W - 10, ob - ot, facecolor="#E4E4E4", edgecolor="none"))
    # top shadow of the outer frame
    for k, c in enumerate(["#8C8C8C", "#A6A6A6", "#BDBDBD", "#CFCFCF", "#DCDCDC"]):
        bg.add_patch(Rectangle((10, ot + k), W - 10, 1.2, facecolor=c, edgecolor="none"))
    # soft shadow of the inner white plot area
    bg.add_patch(Rectangle((22, it + 2), 675, ib - it + 2, facecolor="#BEBEBE", edgecolor="none"))
    bg.add_patch(Rectangle((23, it + 1), 673, ib - it + 1, facecolor="#A9A9A9", edgecolor="none"))
    bg.add_patch(Rectangle((25, it), 670, ib - it, facecolor="white", edgecolor="none"))
    bg.text(360, ty, title, ha="center", va="center", fontsize=16, color="#1a1a1a")


def make_axes(top_px, bot_px):
    x0, x1 = plot_x
    ax = fig.add_axes([x0 / W, 1 - bot_px / H, (x1 - x0) / W, (bot_px - top_px) / H], zorder=2)
    ax.set_xlim(years[0], years[-1])
    ax.set_ylim(-0.3, 0.5)
    ax.patch.set_alpha(0)
    for sp in ax.spines.values():
        sp.set_visible(False)
    ax.set_yticks(y_ticks)
    ax.set_yticklabels([f"{v:g}" for v in y_ticks])
    ax.set_xticks(year_ticks)
    ax.tick_params(length=0, labelsize=8, labelcolor="#595959", pad=9)
    for lab in ax.get_xticklabels() + ax.get_yticklabels():
        lab.set_fontfamily("Lato")
    return ax


axes = [make_axes(*py) for py in plot_y]

for vals, c in zip(total_series, series_colors):
    axes[0].plot(years, vals, color=c, lw=2.3, solid_joinstyle="round", clip_on=False)

f = np.array(nat_factor)
for b, c in zip(nat_betas, nat_colors):
    lw = 3.6 if b == 1.0 else 2.6
    axes[1].plot(years, b * f, color=c, lw=lw, solid_joinstyle="round", clip_on=False)

for vals, c in zip(regional_series, series_colors):
    axes[2].plot(years, vals, color=c, lw=2.3, solid_joinstyle="round", clip_on=False)

axes[0].set_xticklabels([])
axes[1].set_xticklabels([])
axes[2].set_xticklabels([str(y) for y in year_ticks])

fig.savefig("out.png", dpi=100)
